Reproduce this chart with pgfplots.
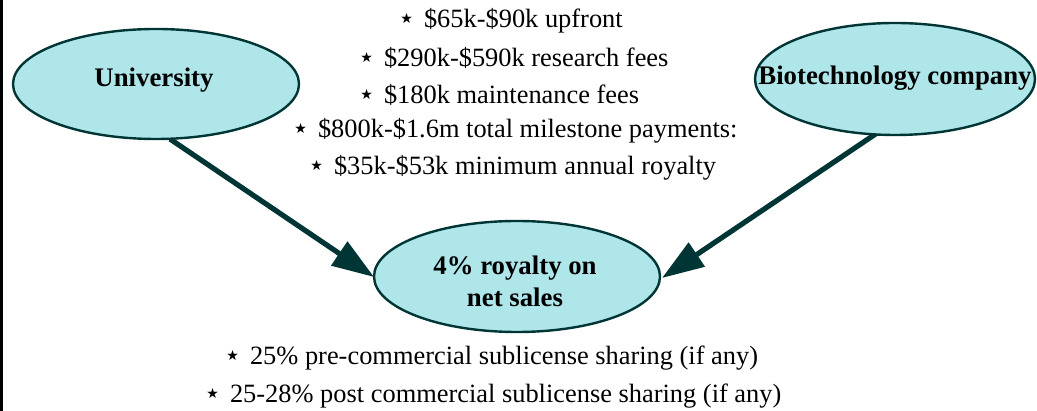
\documentclass[border=0pt]{standalone}
\usepackage{fontspec}
\setmainfont{Liberation Serif}
\newfontfamily\symfont{DejaVu Sans}
\usepackage{pgfplots}
\pgfplotsset{compat=1.18}
\usetikzlibrary{arrows.meta}
\definecolor{nodefill}{HTML}{AEE6EA}
\definecolor{darkteal}{HTML}{003535}
\newcommand{\bul}{\raisebox{0.15em}{\fontsize{7}{7}\selectfont\symfont ★}\hspace{0.42em}}

\begin{document}
\begin{tikzpicture}
\begin{axis}[
width=518.5pt,height=205.5pt,scale only axis,hide axis,clip=false,
xmin=0,xmax=1037,ymin=0,ymax=411]
% left border
\addplot[black,line width=1.5pt] coordinates {(1,0) (1,411)};
% arrows into the royalty node
\addplot[darkteal,line width=2.6pt,-{Triangle[length=21pt,width=14pt]}] coordinates {(170,272) (374,134)};
\addplot[darkteal,line width=2.6pt,-{Triangle[length=21pt,width=14pt]}] coordinates {(880,280) (662,133)};
% the three parties
\draw[darkteal,line width=1.2pt,fill=nodefill] (axis cs:156,327) ellipse [x radius=143,y radius=55];
\draw[darkteal,line width=1.2pt,fill=nodefill] (axis cs:895,332) ellipse [x radius=140,y radius=56];
\draw[darkteal,line width=1.2pt,fill=nodefill] (axis cs:517,134.5) ellipse [x radius=143,y radius=55.5];
\node[font=\fontsize{13.4}{16}\selectfont\bfseries] at (axis cs:154,331) {University};
\node[font=\fontsize{13.4}{16}\selectfont\bfseries] at (axis cs:895,333) {Biotechnology company};
\node[font=\fontsize{13.4}{16}\selectfont\bfseries,align=center] at (axis cs:515,130) {4\% royalty on\\net sales};
% payment terms
\begin{scope}[every node/.style={anchor=west,inner sep=0pt,font=\fontsize{13.2}{16}\selectfont}]
\node at (axis cs:400,390) {\bul\$65k-\$90k upfront};
\node at (axis cs:360,353) {\bul\$290k-\$590k research fees};
\node at (axis cs:360,316) {\bul\$180k maintenance fees};
\node at (axis cs:294,280) {\bul\$800k-\$1.6m total milestone payments:};
\node at (axis cs:310,243) {\bul\$35k-\$53k minimum annual royalty};
\node at (axis cs:226,53) {\bul 25\% pre-commercial sublicense sharing (if any)};
\node at (axis cs:206,15) {\bul 25-28\% post commercial sublicense sharing (if any)};
\end{scope}
\end{axis}
\pgfresetboundingbox
\path (0,0) rectangle (518.5pt,205.5pt);
\end{tikzpicture}
\end{document}
